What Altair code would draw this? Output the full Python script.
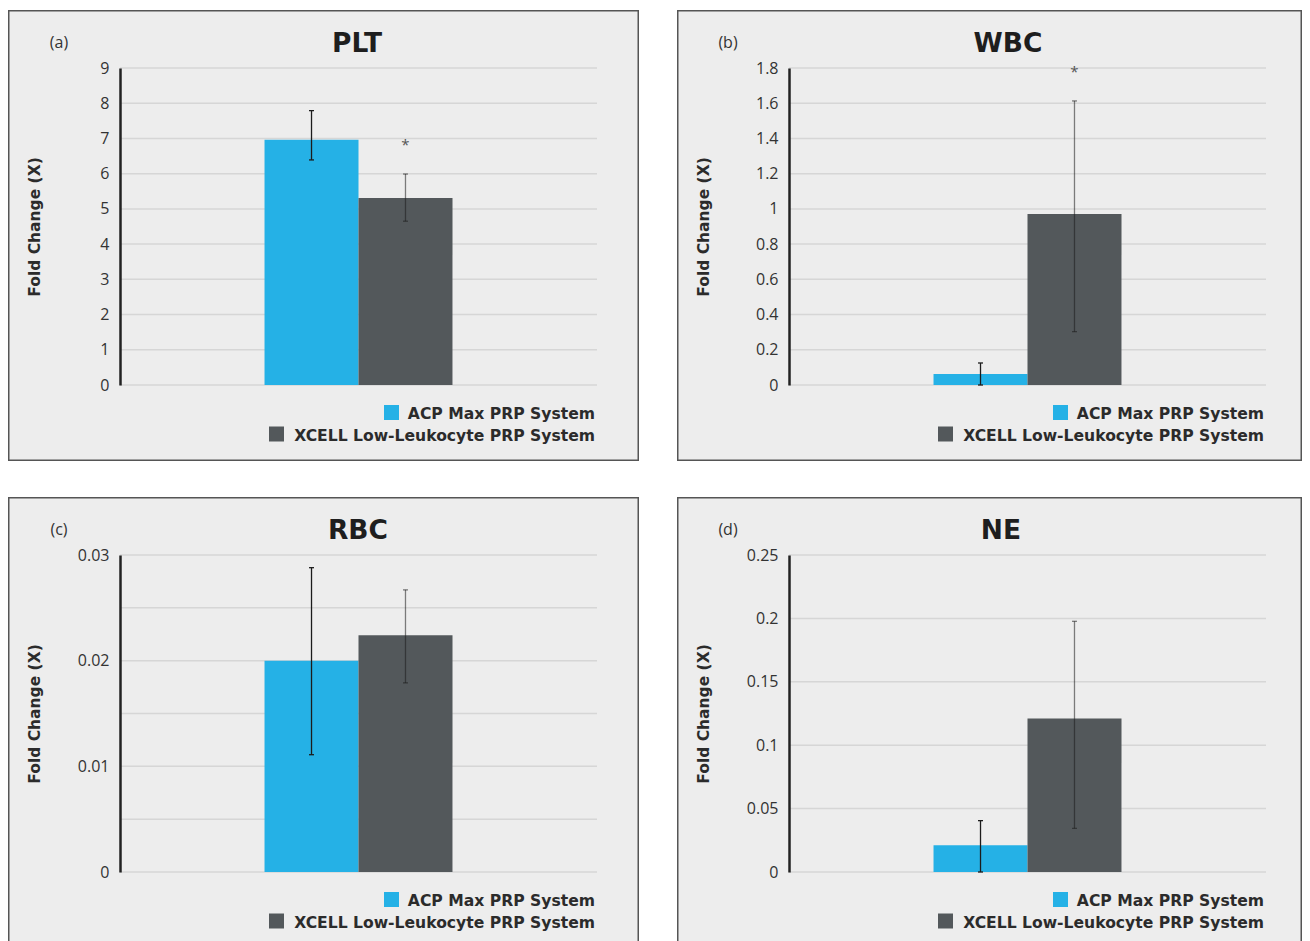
import altair as alt
import pandas as pd

SERIES = ["ACP Max PRP System", "XCELL Low-Leukocyte PRP System"]
COLORS = ["#25b1e6", "#53585b"]
PANELS = ["PLT", "WBC", "RBC", "NE"]
LETTERS = ["(a)", "(b)", "(c)", "(d)"]

PLT_MEAN = [6.96, 5.31]
PLT_LO = [6.39, 4.65]
PLT_HI = [7.79, 5.99]

WBC_MEAN = [0.062, 0.971]
WBC_LO = [0.0, 0.303]
WBC_HI = [0.125, 1.613]

RBC_MEAN = [0.0200, 0.0224]
RBC_LO = [0.0111, 0.0179]
RBC_HI = [0.0288, 0.0267]

NE_MEAN = [0.021, 0.121]
NE_LO = [0.0, 0.0344]
NE_HI = [0.0405, 0.1977]

MEANS = [PLT_MEAN, WBC_MEAN, RBC_MEAN, NE_MEAN]
LOS = [PLT_LO, WBC_LO, RBC_LO, NE_LO]
HIS = [PLT_HI, WBC_HI, RBC_HI, NE_HI]

Y_MAX = [9, 1.8, 0.03, 0.25]
Y_TICKS = [
    [0, 1, 2, 3, 4, 5, 6, 7, 8, 9],
    [0, 0.2, 0.4, 0.6, 0.8, 1, 1.2, 1.4, 1.6, 1.8],
    [0, 0.01, 0.02, 0.03],
    [0, 0.05, 0.1, 0.15, 0.2, 0.25],
]
GRID = [
    Y_TICKS[0],
    Y_TICKS[1],
    [0, 0.005, 0.01, 0.015, 0.02, 0.025, 0.03],
    Y_TICKS[3],
]
# significance asterisk (on the XCELL bar), in data units; None = no asterisk
STAR_AT = [6.79, 1.77, None, None]

W, H = 477, 317
TITLE_X = [237, 219, 238, 212]
PANEL_RIGHT = [518.25, 512.25, 518.25, 512.25]
FONT_B = "DejaVu Sans"


def panel(i):
    df = pd.DataFrame({
        "series": SERIES,
        "grp": ["g", "g"],
        "mean": MEANS[i],
        "lo": LOS[i],
        "hi": HIS[i],
    })
    yscale = alt.Scale(domain=[0, Y_MAX[i]], nice=False, zero=True)
    axis = alt.Axis(
        values=Y_TICKS[i], format="~g", grid=False, ticks=False,
        domain=True, domainColor="#222222", domainWidth=2.5,
        labelFont="Open Sans", labelFontSize=16, labelColor="#333333",
        labelPadding=11,
        title="Fold Change (X)", titleFont=FONT_B, titleFontSize=15.5,
        titleFontWeight="bold", titleColor="#2b2b2b",
        titleX=-86, titleY=H / 2, titleAngle=270, titleAlign="center",
        titleBaseline="middle", zindex=1,
    )

    def Y(f):
        return alt.Y(f, scale=yscale, axis=axis)

    X = alt.X("grp:N", scale=alt.Scale(paddingOuter=0.769, paddingInner=0), axis=None)
    XO = alt.XOffset("series:N", sort=SERIES,
                     scale=alt.Scale(paddingInner=0, paddingOuter=0))
    OP = alt.Opacity("series:N", scale=alt.Scale(domain=SERIES, range=[1.0, 0.55]),
                     legend=None)

    one = alt.Data(values=[{"k": 0}])

    bg = alt.Chart(one).mark_rect(
        fill="#ededed", stroke="#555555", strokeWidth=1.5
    ).encode(x=alt.value(-111.25), x2=alt.value(PANEL_RIGHT[i]),
             y=alt.value(-57.25), y2=alt.value(392.25))

    grid = alt.Chart(pd.DataFrame({"v": GRID[i]})).mark_rule(
        color="#d6d6d6", strokeWidth=1.5
    ).encode(y=Y("v:Q"), x=alt.value(0), x2=alt.value(W))

    bars = alt.Chart(df).mark_bar().encode(
        x=X, xOffset=XO, y=Y("mean:Q"),
        color=alt.Color("series:N", scale=alt.Scale(domain=SERIES, range=COLORS),
                        legend=None),
    )

    err = alt.Chart(df).mark_rule(strokeWidth=1.3).encode(
        x=X, xOffset=XO, y=Y("lo:Q"), y2="hi:Q",
        color=alt.value("#1c1c1c"), opacity=OP,
    )
    cap_lo = alt.Chart(df).mark_tick(thickness=1.3, size=5).encode(
        x=X, xOffset=XO, y=Y("lo:Q"), color=alt.value("#1c1c1c"), opacity=OP,
    )
    cap_hi = alt.Chart(df).mark_tick(thickness=1.3, size=5).encode(
        x=X, xOffset=XO, y=Y("hi:Q"), color=alt.value("#1c1c1c"), opacity=OP,
    )

    layers = [bg, grid, bars, err, cap_lo, cap_hi]

    if STAR_AT[i] is not None:
        sdf = pd.DataFrame({"series": [SERIES[1]], "grp": ["g"], "s": [STAR_AT[i]]})
        star = alt.Chart(sdf).mark_text(
            text="*", font="Open Sans", fontSize=15, color="#555555",
            baseline="middle", dy=-1,
        ).encode(x=X, xOffset=XO, y=Y("s:Q"))
        layers.append(star)

    title = alt.Chart(one).mark_text(
        text=PANELS[i], font=FONT_B, fontWeight="bold", fontSize=26.5,
        color="#1e1e1e", align="center", baseline="alphabetic",
    ).encode(x=alt.value(TITLE_X[i]), y=alt.value(-16))

    letter = alt.Chart(one).mark_text(
        text=LETTERS[i], font="Open Sans", fontSize=16, color="#333333",
        align="center", baseline="alphabetic",
    ).encode(x=alt.value(-61), y=alt.value(-20))

    leg = []
    sq_x = [271.5, 156.5]
    sq_y = [H + 27.5, H + 49]
    txt_y = [H + 34, H + 56]
    for k in range(2):
        leg.append(alt.Chart(one).mark_square(size=225, filled=True, opacity=1).encode(
            x=alt.value(sq_x[k]), y=alt.value(sq_y[k]), color=alt.value(COLORS[k])))
        leg.append(alt.Chart(one).mark_text(
            text=SERIES[k], font=FONT_B, fontWeight="bold", fontSize=15.6,
            color="#2b2b2b", align="right", baseline="alphabetic",
        ).encode(x=alt.value(475), y=alt.value(txt_y[k])))

    layers += [title, letter] + leg
    return alt.layer(*layers).properties(width=W, height=H)


chart = alt.vconcat(
    alt.hconcat(panel(0), panel(1), spacing=38),
    alt.hconcat(panel(2), panel(3), spacing=38),
    spacing=36,
).properties(
    padding={"left": 0, "top": 2, "right": 0, "bottom": 0},
    background="white",
).configure_view(stroke=None)

chart.save("out.html", embed_options={"renderer": "svg", "actions": False})
